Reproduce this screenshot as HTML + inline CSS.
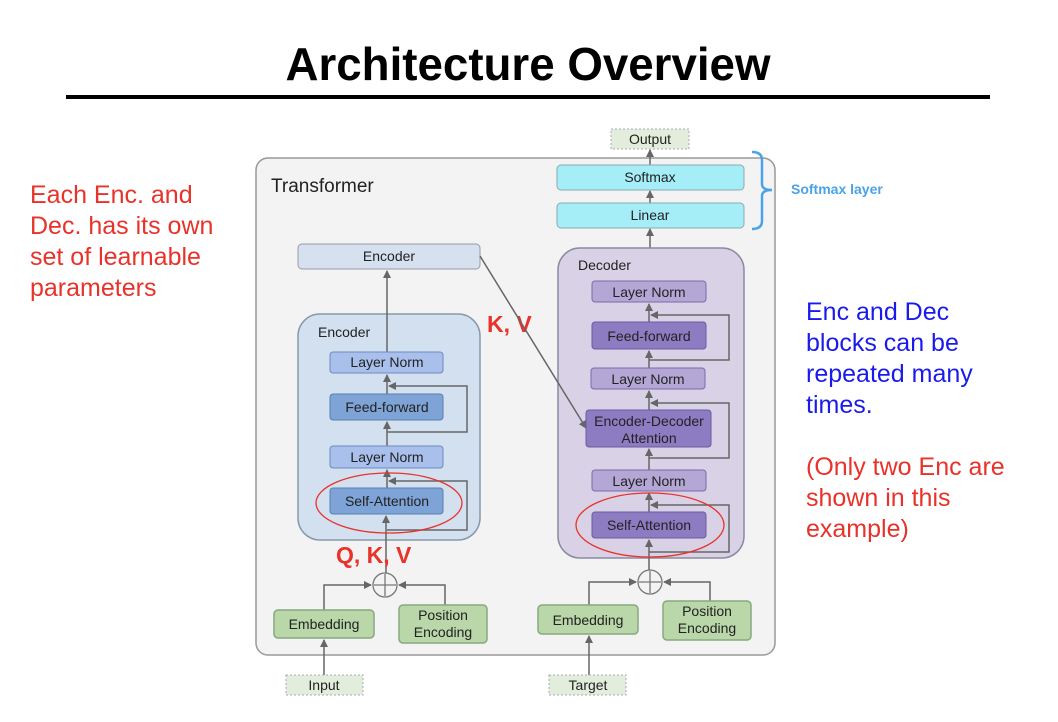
<!DOCTYPE html>
<html><head><meta charset="utf-8"><style>body{margin:0;background:#fff}svg{display:block}text{font-family:"Liberation Sans",sans-serif}</style></head><body>
<svg width="1058" height="722" viewBox="0 0 1058 722" xmlns="http://www.w3.org/2000/svg">
<defs><marker id="a" markerWidth="8" markerHeight="8" refX="7" refY="4" orient="auto" markerUnits="userSpaceOnUse"><path d="M0,0 L8,4 L0,8 z" fill="#666"/></marker></defs>
<text x="528" y="80" font-size="46" font-weight="bold" text-anchor="middle" textLength="485" lengthAdjust="spacingAndGlyphs">Architecture Overview</text>
<rect x="66" y="95" width="924" height="4" fill="#000"/>
<g font-size="25" fill="#e8322a"><text x="30" y="203">Each Enc. and</text><text x="30" y="234">Dec. has its own</text><text x="30" y="265">set of learnable</text><text x="30" y="296">parameters</text></g>
<g font-size="25" fill="#1a1aee"><text x="806" y="320">Enc and Dec</text><text x="806" y="351">blocks can be</text><text x="806" y="382">repeated many</text><text x="806" y="413">times.</text></g>
<g font-size="25" fill="#e8322a"><text x="806" y="475">(Only two Enc are</text><text x="806" y="506">shown in this</text><text x="806" y="537">example)</text></g>
<rect x="256" y="158" width="519" height="497" rx="12" fill="#f3f3f3" stroke="#999" stroke-width="1.5"/>
<text x="271" y="192" font-size="19" fill="#222">Transformer</text>
<rect x="611" y="129" width="78" height="20" fill="#e2eedb" stroke="#aab" stroke-dasharray="2,2"/>
<text x="650" y="144" font-size="14" text-anchor="middle" fill="#222">Output</text>
<path d="M752,152 Q762,152 762,160 L762,184 Q762,190 772,190 Q762,190 762,196 L762,221 Q762,229 752,229" fill="none" stroke="#4aa3e8" stroke-width="2.5"/>
<text x="791" y="194" font-size="14" font-weight="bold" fill="#4aa3e8">Softmax layer</text>
<g stroke="#666" stroke-width="1.5" fill="none" marker-end="url(#a)">
<line x1="650" y1="165" x2="650" y2="150"/><line x1="650" y1="203" x2="650" y2="191"/><line x1="650" y1="281" x2="650" y2="229"/>
</g>
<rect x="557" y="165" width="187" height="25" rx="4" fill="#a6eef7" stroke="#89aab0"/>
<text x="650" y="182" font-size="14" text-anchor="middle" fill="#222">Softmax</text>
<rect x="557" y="203" width="187" height="25" rx="4" fill="#a6eef7" stroke="#89aab0"/>
<text x="650" y="220" font-size="14" text-anchor="middle" fill="#222">Linear</text>
<rect x="298" y="244" width="182" height="25" rx="4" fill="#d6e1ef" stroke="#99a"/>
<text x="389" y="261" font-size="14" text-anchor="middle" fill="#222">Encoder</text>
<rect x="298" y="314" width="182" height="226" rx="22" fill="#d3e0f0" stroke="#8899aa" stroke-width="1.5"/>
<text x="318" y="337" font-size="14" fill="#222">Encoder</text>
<g stroke="#666" stroke-width="1.5" fill="none">
<line x1="387" y1="352" x2="387" y2="271" marker-end="url(#a)"/>
<line x1="387" y1="394" x2="387" y2="375" marker-end="url(#a)"/>
<line x1="387" y1="446" x2="387" y2="422" marker-end="url(#a)"/>
<line x1="387" y1="488" x2="387" y2="470" marker-end="url(#a)"/>
<line x1="386" y1="573" x2="386" y2="516" marker-end="url(#a)"/>
<polyline points="387,432 467,432 467,386 389,386" marker-end="url(#a)"/>
<polyline points="387,530 467,530 467,481 389,481" marker-end="url(#a)"/>
</g>
<rect x="330" y="352" width="113" height="21" rx="3" fill="#a9c0ec" stroke="#6a8ac0"/>
<text x="387" y="367" font-size="14" text-anchor="middle" fill="#222">Layer Norm</text>
<rect x="330" y="394" width="113" height="26" rx="3" fill="#7ea3d6" stroke="#5a7fb0"/>
<text x="387" y="412" font-size="14" text-anchor="middle" fill="#222">Feed-forward</text>
<rect x="330" y="446" width="113" height="22" rx="3" fill="#a9c0ec" stroke="#6a8ac0"/>
<text x="387" y="462" font-size="14" text-anchor="middle" fill="#222">Layer Norm</text>
<rect x="330" y="488" width="113" height="26" rx="3" fill="#7ea3d6" stroke="#5a7fb0"/>
<text x="387" y="506" font-size="14" text-anchor="middle" fill="#222">Self-Attention</text>
<ellipse cx="389" cy="503" rx="73" ry="30" fill="none" stroke="#e8322a" stroke-width="1.3"/>
<text x="336" y="563" font-size="23" font-weight="bold" fill="#e8322a">Q, K, V</text>
<text x="487" y="332" font-size="23" font-weight="bold" fill="#e8322a">K, V</text>
<rect x="558" y="248" width="186" height="310" rx="22" fill="#d9d2e6" stroke="#8a8aa0" stroke-width="1.5"/>
<text x="578" y="270" font-size="14" fill="#222">Decoder</text>
<g stroke="#666" stroke-width="1.5" fill="none">
<line x1="480" y1="256" x2="586" y2="428" marker-end="url(#a)"/>
<line x1="649" y1="322" x2="649" y2="304" marker-end="url(#a)"/>
<line x1="649" y1="368" x2="649" y2="351" marker-end="url(#a)"/>
<line x1="649" y1="410" x2="649" y2="391" marker-end="url(#a)"/>
<line x1="649" y1="470" x2="649" y2="449" marker-end="url(#a)"/>
<line x1="649" y1="512" x2="649" y2="493" marker-end="url(#a)"/>
<line x1="649" y1="570" x2="649" y2="540" marker-end="url(#a)"/>
<polyline points="649,360 729,360 729,315 651,315" marker-end="url(#a)"/>
<polyline points="649,458 729,458 729,403 651,403" marker-end="url(#a)"/>
<polyline points="649,552 729,552 729,505 651,505" marker-end="url(#a)"/>
</g>
<rect x="592" y="281" width="114" height="21" rx="3" fill="#b4a7d6" stroke="#7a6aaa"/>
<text x="649" y="297" font-size="14" text-anchor="middle" fill="#222">Layer Norm</text>
<rect x="592" y="322" width="114" height="27" rx="3" fill="#8e7cc3" stroke="#6a5aa0"/>
<text x="649" y="341" font-size="14" text-anchor="middle" fill="#222">Feed-forward</text>
<rect x="591" y="368" width="114" height="21" rx="3" fill="#b4a7d6" stroke="#7a6aaa"/>
<text x="648" y="384" font-size="14" text-anchor="middle" fill="#222">Layer Norm</text>
<rect x="586" y="410" width="125" height="37" rx="3" fill="#8e7cc3" stroke="#6a5aa0"/>
<text x="649" y="426" font-size="14" text-anchor="middle" fill="#222">Encoder-Decoder</text>
<text x="649" y="443" font-size="14" text-anchor="middle" fill="#222">Attention</text>
<rect x="592" y="470" width="114" height="21" rx="3" fill="#b4a7d6" stroke="#7a6aaa"/>
<text x="649" y="486" font-size="14" text-anchor="middle" fill="#222">Layer Norm</text>
<rect x="592" y="512" width="114" height="26" rx="3" fill="#8e7cc3" stroke="#6a5aa0"/>
<text x="649" y="530" font-size="14" text-anchor="middle" fill="#222">Self-Attention</text>
<ellipse cx="650" cy="525" rx="74" ry="32" fill="none" stroke="#e8322a" stroke-width="1.3"/>
<g stroke="#666" stroke-width="1.5" fill="none">
<polyline points="324,610 324,585 371,585" marker-end="url(#a)"/>
<polyline points="445,605 445,585 399,585" marker-end="url(#a)"/>
<line x1="324" y1="675" x2="324" y2="640" marker-end="url(#a)"/>
<polyline points="589,605 589,582 636,582" marker-end="url(#a)"/>
<polyline points="710,601 710,582 664,582" marker-end="url(#a)"/>
<line x1="589" y1="675" x2="589" y2="636" marker-end="url(#a)"/>
</g>
<g fill="#f3f3f3" stroke="#777" stroke-width="1.3">
<circle cx="385" cy="585" r="12"/><path d="M385,574 V596 M374,585 H396"/>
<circle cx="650" cy="582" r="12"/><path d="M650,571 V593 M639,582 H661"/>
</g>
<g fill="#b9d7a8" stroke="#88a880" stroke-width="1.5">
<rect x="274" y="610" width="100" height="28" rx="4"/><rect x="399" y="605" width="88" height="38" rx="4"/>
<rect x="538" y="605" width="100" height="29" rx="4"/><rect x="663" y="601" width="88" height="39" rx="4"/>
</g>
<g font-size="14" text-anchor="middle" fill="#222">
<text x="324" y="629">Embedding</text><text x="443" y="620">Position</text><text x="443" y="637">Encoding</text>
<text x="588" y="625">Embedding</text><text x="707" y="616">Position</text><text x="707" y="633">Encoding</text>
</g>
<rect x="286" y="675" width="77" height="20" fill="#e2eedb" stroke="#aab" stroke-dasharray="2,2"/>
<text x="324" y="690" font-size="14" text-anchor="middle" fill="#222">Input</text>
<rect x="549" y="675" width="77" height="20" fill="#e2eedb" stroke="#aab" stroke-dasharray="2,2"/>
<text x="588" y="690" font-size="14" text-anchor="middle" fill="#222">Target</text>
</svg>
</body></html>
